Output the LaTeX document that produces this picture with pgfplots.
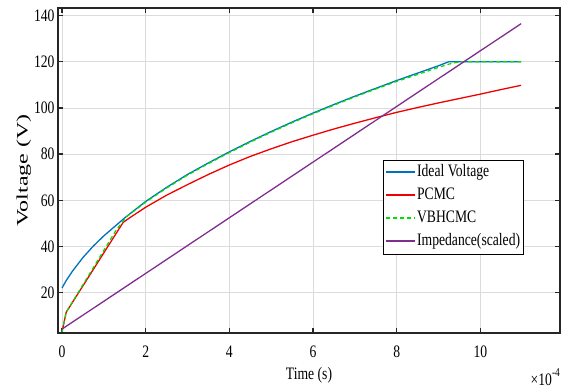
\documentclass[border=0pt]{standalone}
\usepackage{fontspec}
\setmainfont{Liberation Serif}[FakeStretch=0.78]
\newfontfamily\ylabfont{Liberation Serif}[FakeStretch=1.5]
\usepackage{pgfplots}
\pgfplotsset{compat=1.18}

\definecolor{idealblue}{RGB}{0,114,189}
\definecolor{pcmcred}{RGB}{240,0,0}
\definecolor{vbgreen}{RGB}{0,224,0}
\definecolor{imppurple}{RGB}{126,47,142}

\newcommand{\chartfont}{\fontsize{17.5bp}{20bp}\selectfont}

\pgfplotsset{
  ideal/.style={color=idealblue, line width=1.3bp},
  pcmc/.style={color=pcmcred, line width=1.3bp},
  vbhcmc/.style={color=vbgreen, line width=1.2bp, dash pattern=on 4bp off 3bp},
  imped/.style={color=imppurple, line width=1.3bp},
}

\begin{document}
\begin{tikzpicture}
\begin{axis}[
  scale only axis,
  width=502bp, height=325bp,
  xmin=-0.096, xmax=11.9,
  ymin=2.5, ymax=143.3,
  xtick={0,2,...,10},
  ytick={20,40,...,140},
  /pgf/number format/assume math mode=true,
  grid=major,
  grid style={draw=black!14, line width=0.8bp},
  axis line style={draw=black!85, line width=1.3bp},
  tick style={draw=black!85, line width=1.3bp},
  tick align=inside,
  major tick length=5bp,
  tick label style={font=\chartfont},
  xticklabel style={yshift=-9bp},
  xlabel={Time (s)},
  xlabel style={font=\chartfont, yshift=-3bp},
  ylabel={\ylabfont Voltage (V)},
  ylabel style={font=\fontsize{16bp}{19bp}\selectfont, yshift=-4bp},
  legend style={
    at={(axis description cs:0.927,0.532)}, anchor=north east,
    fill=white,
    font=\chartfont, cells={anchor=west},
    inner xsep=2bp, inner ysep=1bp,
    nodes={inner xsep=1bp, inner ysep=3.5bp, text height=12bp, text depth=4bp},
  },
  legend image code/.code={%
    \draw[#1, line width=1.5bp] (0bp,1bp) -- (29bp,1bp);},
]
% ideal charging voltage
\addplot[ideal] coordinates {
  (0,22.0) (0.1,25.2) (0.25,29.3) (0.5,35.2) (0.75,40.2) (1.0,44.6)
  (1.5,52.4) (2.0,59.5) (2.5,65.6) (3.0,71.2) (3.5,76.2) (4.0,81.0)
  (4.5,85.5) (5.0,89.8) (5.5,93.9) (6.0,97.8) (6.5,101.5) (7.0,105.1)
  (7.5,108.5) (8.0,111.9) (8.5,115.1) (9.0,118.3) (9.24,120.0)
  (10.97,120.0)
};
\addlegendentry{Ideal Voltage}
% peak current mode control
\addplot[pcmc] coordinates {
  (0,3.0) (0.1,11.5) (1.46,50.4) (1.6,52.2) (2.0,57.0) (2.5,62.2)
  (3.0,66.8) (3.5,71.2) (4.0,75.3) (4.5,79.0) (5.0,82.3) (5.5,85.4)
  (6.0,88.2) (6.5,90.9) (7.0,93.4) (7.5,95.8) (8.0,98.1) (8.5,100.2)
  (9.0,102.2) (9.5,104.1) (10.0,106.0) (10.5,108.0) (10.97,109.8)
};
\addlegendentry{PCMC}
% voltage-based hybrid current mode control
\addplot[vbhcmc] coordinates {
  (0,3.0) (0.1,11.5) (1.29,47.0) (1.55,53.0) (2.0,59.2) (2.5,65.3)
  (3.0,70.9) (3.5,75.9) (4.0,80.7) (4.5,85.2) (5.0,89.5) (5.5,93.6)
  (6.0,97.5) (6.5,101.2) (7.0,104.8) (7.5,108.2) (8.0,111.5)
  (8.5,114.5) (9.0,117.6) (9.25,119.0) (9.5,120.0) (10.97,120.0)
};
\addlegendentry{VBHCMC}
% load impedance, scaled to the voltage axis
\addplot[imped] coordinates {
  (0,4.2) (10.97,136.5)
};
\addlegendentry{Impedance(scaled)}

\coordinate (bl) at (rel axis cs:0,0);
\coordinate (tr) at (rel axis cs:1,1);
\end{axis}
% exponent of the time axis
\node[font=\chartfont, anchor=north east, inner sep=0pt]
  at ([yshift=-35bp]bl -| tr) {×10\raisebox{0.55em}{\fontsize{12bp}{14bp}\selectfont -4}};
\pgfresetboundingbox
\useasboundingbox ([shift={(-58bp,-57bp)}]bl) rectangle ([shift={(7bp,8bp)}]tr);
\end{tikzpicture}
\end{document}
